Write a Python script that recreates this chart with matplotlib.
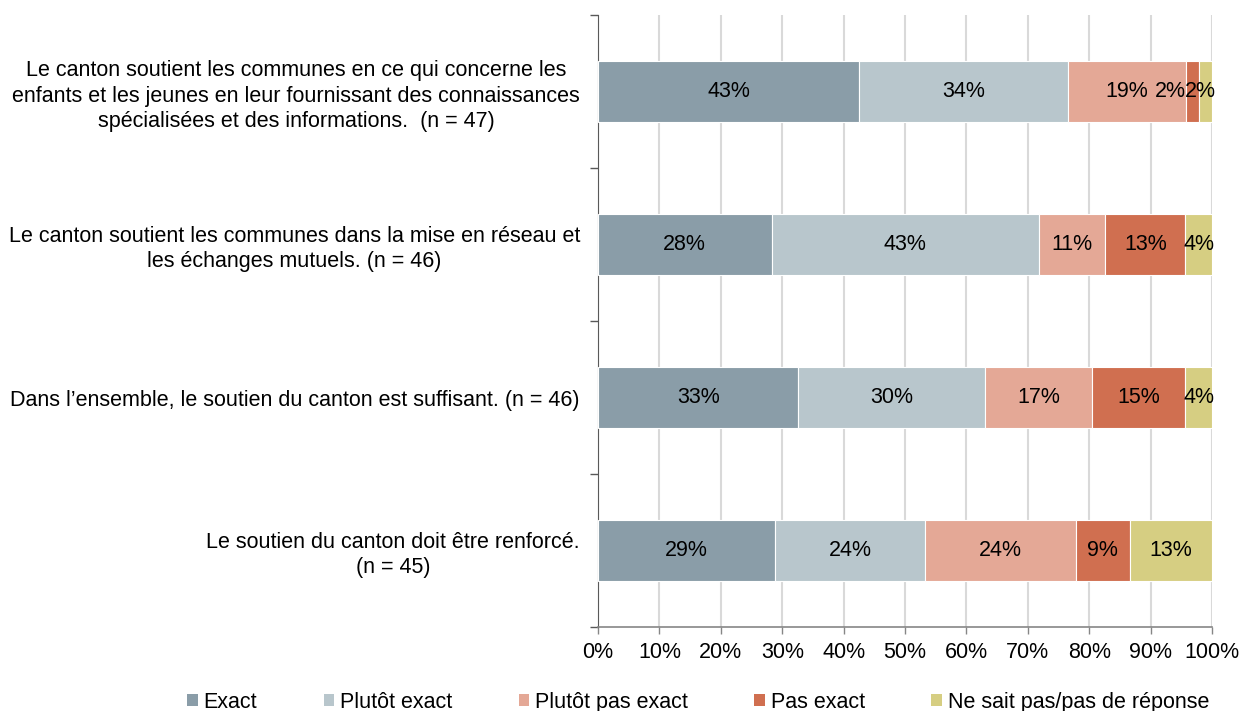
import matplotlib.pyplot as plt
from matplotlib.patches import Patch
import numpy as np

plt.rcParams['font.family'] = ['Liberation Sans', 'DejaVu Sans']

questions = [
    "Le canton soutient les communes en ce qui concerne les\nenfants et les jeunes en leur fournissant des connaissances\nspécialisées et des informations.  (n = 47)",
    "Le canton soutient les communes dans la mise en réseau et\nles échanges mutuels. (n = 46)",
    "Dans l\u2019ensemble, le soutien du canton est suffisant. (n = 46)",
    "Le soutien du canton doit être renforcé.\n(n = 45)",
]
categories = ["Exact", "Plutôt exact", "Plutôt pas exact", "Pas exact", "Ne sait pas/pas de réponse"]
exact = [42.55, 28.26, 32.61, 28.89]
plutot_exact = [34.04, 43.48, 30.43, 24.44]
plutot_pas_exact = [19.15, 10.87, 17.39, 24.44]
pas_exact = [2.13, 13.04, 15.22, 8.89]
ne_sait_pas = [2.13, 4.35, 4.35, 13.33]
colors = ["#8a9da8", "#b8c6cc", "#e4a896", "#d06f50", "#d6ce82"]

# small labels nudged sideways so they don't sit on top of each other
label_shift = {(0, 3): -3.6, (0, 4): -0.8}

series = [exact, plutot_exact, plutot_pas_exact, pas_exact, ne_sait_pas]
fs = 15.5

fig = plt.figure(figsize=(12.42, 7.11), dpi=100)
ax = fig.add_axes([0.4815, 0.118, 0.4944, 0.861])

y = np.arange(len(questions))
left = np.zeros(len(questions))
for k, (vals, col) in enumerate(zip(series, colors)):
    vals = np.array(vals)
    ax.barh(y, vals, left=left, height=0.4, color=col, edgecolor='white', linewidth=0.8, zorder=3)
    for i, (yi, l, v) in enumerate(zip(y, left, vals)):
        dx = label_shift.get((i, k), 0)
        ax.text(l + v / 2 + dx, yi, f"{v:.0f}%", ha='center', va='center', fontsize=fs, color='black', zorder=4)
    left += vals

ax.set_xlim(0, 100)
ax.set_ylim(len(questions) - 0.5, -0.5)
ax.set_xticks(np.arange(0, 101, 10))
ax.set_xticklabels([f"{t}%" for t in range(0, 101, 10)], fontsize=fs)
ax.xaxis.grid(True, color='#d9d9d9', linewidth=1.5, zorder=0)

ax.set_yticks(y)
ax.set_yticklabels(questions, fontsize=fs, multialignment='center', linespacing=1.26)
ax.tick_params(axis='y', which='major', length=0, pad=13)
ax.set_yticks(np.arange(-0.5, len(questions), 1), minor=True)
ax.tick_params(axis='y', which='minor', length=6, color='#595959', width=1)
ax.tick_params(axis='x', length=5, color='#868686', width=1, pad=6)

for s in ['top', 'right']:
    ax.spines[s].set_visible(False)
ax.spines['left'].set_color('#595959')
ax.spines['bottom'].set_color('#868686')
ax.spines['bottom'].set_linewidth(1.2)

handles = [Patch(facecolor=c, edgecolor='none') for c in colors]
fig.legend(handles, categories, loc='lower center', bbox_to_anchor=(0.562, -0.03), ncol=5,
           frameon=False, fontsize=fs, handlelength=0.5, handleheight=0.5,
           handletextpad=0.25, columnspacing=3.1)

fig.savefig("out.png", dpi=100)
